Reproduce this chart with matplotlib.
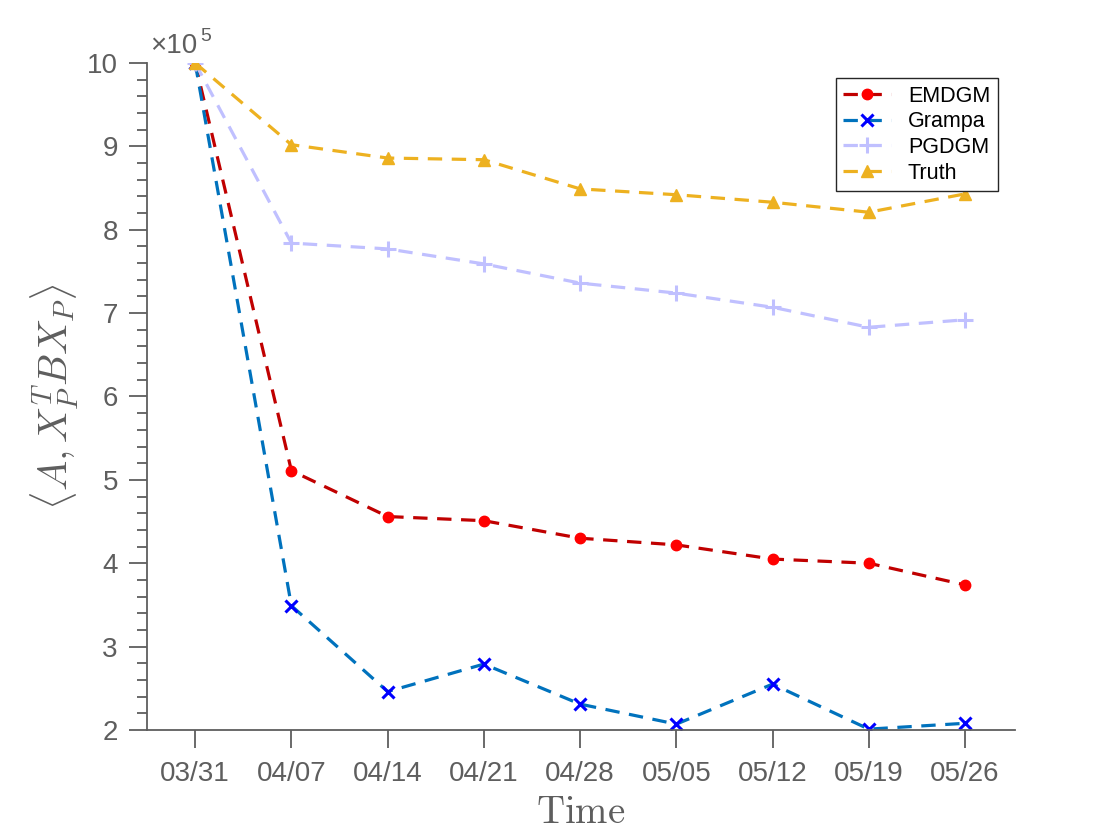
import matplotlib
matplotlib.use("Agg")
import matplotlib.pyplot as plt
from matplotlib.ticker import MultipleLocator

dates = ["03/31", "04/07", "04/14", "04/21", "04/28", "05/05", "05/12", "05/19", "05/26"]
emdgm = [10.0, 5.11, 4.56, 4.51, 4.30, 4.22, 4.05, 4.00, 3.74]
grampa = [10.0, 3.49, 2.46, 2.79, 2.31, 2.07, 2.55, 2.01, 2.08]
pgdgm = [10.0, 7.84, 7.77, 7.59, 7.36, 7.24, 7.07, 6.83, 6.92]
truth = [10.0, 9.02, 8.86, 8.84, 8.49, 8.42, 8.33, 8.21, 8.43]

plt.rcParams['font.family'] = ['Liberation Sans', 'DejaVu Sans']
plt.rcParams['mathtext.fontset'] = 'cm'

gray = '#5e5e5e'
fig = plt.figure(figsize=(11.2, 8.4), dpi=100)
ax = fig.add_axes([0.1313, 0.131, 0.775, 0.794])

x = list(range(len(dates)))
dash = (4.5, 3.0)
lw = 2.3
ax.plot(x, emdgm, '--', color='#c00000', lw=lw, dashes=dash, marker='o', ms=7.5,
        mfc='#ff0000', mec='#ff0000', label='EMDGM')
ax.plot(x, grampa, '--', color='#0072BD', lw=lw, dashes=dash, marker='x', ms=8, mew=2.2,
        mfc='#0000ff', mec='#0000ff', label='Grampa')
ax.plot(x, pgdgm, '--', color='#c0c0ff', lw=lw, dashes=dash, marker='+', ms=11, mew=2.2,
        mfc='#c0c0ff', mec='#c0c0ff', label='PGDGM')
ax.plot(x, truth, '--', color='#EDB120', lw=lw, dashes=dash, marker='^', ms=8.5,
        mfc='#EDB120', mec='#EDB120', label='Truth')

ax.set_xlim(-0.5, 8.52)
ax.set_ylim(2, 10)
ax.set_xticks(x)
ax.set_xticklabels(dates)
ax.yaxis.set_major_locator(MultipleLocator(1))
ax.yaxis.set_minor_locator(MultipleLocator(0.2))

for s in ['top', 'right']:
    ax.spines[s].set_visible(False)
for s in ['left', 'bottom']:
    ax.spines[s].set_color(gray)
    ax.spines[s].set_linewidth(1.3)

ax.tick_params(axis='both', which='major', direction='out', length=13, width=1.3,
               color=gray, labelcolor=gray, labelsize=20)
ax.tick_params(axis='y', which='major', pad=8)
ax.tick_params(axis='y', which='minor', direction='out', length=7, width=1.3, color=gray)
ax.tick_params(axis='x', which='major', pad=9)

# exponent label
ax.annotate('\u00d710', xy=(0, 1), xycoords='axes fraction', xytext=(2, 3),
            textcoords='offset points', fontsize=20, color=gray, ha='left', va='bottom')
ax.annotate('5', xy=(0, 1), xycoords='axes fraction', xytext=(38.5, 13),
            textcoords='offset points', fontsize=14, color=gray, ha='left', va='bottom')

ax.set_xlabel(r'$\mathrm{Time}$', fontsize=28, color=gray, labelpad=6)
ax.set_ylabel(r'$\langle A, X_P^T B X_P\rangle$', fontsize=29, color=gray, labelpad=4)

leg = ax.legend(loc='upper right', bbox_to_anchor=(0.98, 0.9775), fontsize=15.5,
                frameon=True, fancybox=False, edgecolor='#262626', framealpha=1,
                handlelength=2.2, borderpad=0.35, labelspacing=0.22, handletextpad=0.8,
                borderaxespad=0)
leg.get_frame().set_linewidth(1.0)

fig.savefig('out.png', dpi=100)
